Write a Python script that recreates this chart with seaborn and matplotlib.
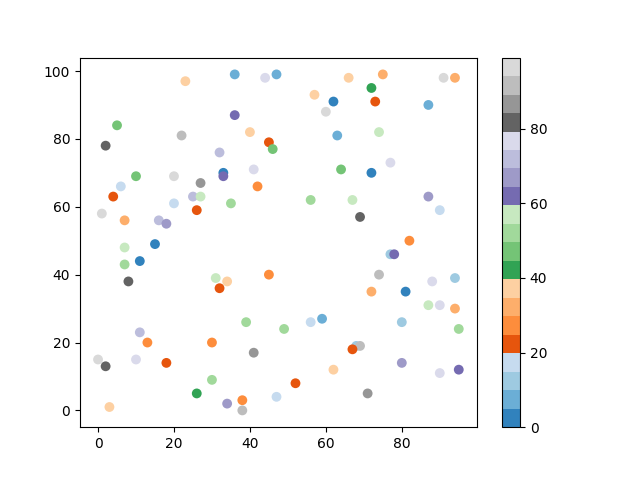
import numpy as np
import pandas as pd
import seaborn as sb
import matplotlib
matplotlib.use('Agg')
import matplotlib.pyplot as plt

# point positions
x = [23, 36, 44, 47, 66, 75, 91, 94, 57, 62,
     72, 73, 87, 60, 36, 40, 63, 74, 45, 46,
     5, 22, 2, 32, 77, 10, 20, 33, 33, 41,
     64, 72, 27, 42, 6, 4, 25, 27, 20, 35,
     56, 67, 87, 26, 90, 1, 69, 7, 16, 18,
     82, 15, 7, 77, 78, 11, 7, 45, 74, 8,
     31, 34, 32, 88, 94, 72, 81, 87, 90, 94,
     39, 49, 56, 59, 80, 95, 11, 13, 30, 68,
     69, 67, 41, 0, 10, 18, 80, 90, 95, 2,
     62, 30, 26, 52, 71, 47, 34, 38, 38, 3]
y = [97, 99, 98, 99, 98, 99, 98, 98, 93, 91,
     95, 91, 90, 88, 87, 82, 81, 82, 79, 77,
     84, 81, 78, 76, 73, 69, 69, 70, 69, 71,
     71, 70, 67, 66, 66, 63, 63, 63, 61, 61,
     62, 62, 63, 59, 59, 58, 57, 56, 56, 55,
     50, 49, 48, 46, 46, 44, 43, 40, 40, 38,
     39, 38, 36, 38, 39, 35, 35, 31, 31, 30,
     26, 24, 26, 27, 26, 24, 23, 20, 20, 19,
     19, 18, 17, 15, 15, 14, 14, 11, 12, 13,
     12, 9, 5, 8, 5, 4, 2, 3, 0, 1]
c = [37, 7, 77, 7, 37, 32, 97, 32, 37, 2,
     42, 22, 7, 97, 62, 37, 7, 57, 22, 47,
     47, 92, 82, 72, 77, 47, 97, 2, 62, 77,
     47, 2, 87, 27, 17, 22, 72, 57, 17, 52,
     52, 57, 67, 22, 17, 97, 82, 32, 72, 67,
     27, 2, 57, 12, 62, 2, 52, 27, 92, 82,
     57, 37, 22, 77, 12, 32, 2, 57, 77, 32,
     52, 52, 17, 7, 12, 52, 72, 27, 27, 12,
     92, 22, 87, 97, 77, 22, 67, 77, 62, 82,
     37, 52, 42, 22, 87, 17, 67, 27, 92, 37]

df = pd.DataFrame({'x': x, 'y': y, 'c': c})
cmap = plt.get_cmap('tab20c')
norm = matplotlib.colors.Normalize(vmin=0, vmax=99)

fig, ax = plt.subplots(figsize=(6.4, 4.8), dpi=100)
sb.scatterplot(data=df, x='x', y='y', hue='c', palette=cmap, hue_norm=norm,
               s=50, linewidth=0, legend=False, ax=ax)
ax.set_xlabel('')
ax.set_ylabel('')

sm = plt.cm.ScalarMappable(norm=norm, cmap=cmap)
sm.set_array([])
fig.colorbar(sm, ax=ax)

fig.savefig('out.png')
